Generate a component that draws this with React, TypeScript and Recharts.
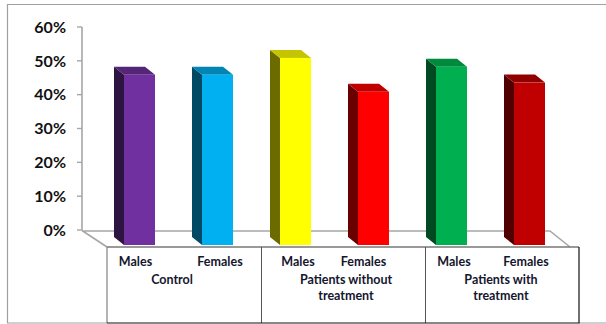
import { BarChart, Bar, XAxis, YAxis } from 'recharts';

const categories = ['Males', 'Females', 'Males', 'Females', 'Males', 'Females'];
const values = [50.3, 50.3, 55.3, 45.3, 52.7, 48];
const percentTicks = [0, 10, 20, 30, 40, 50, 60];
const groupLabels: Record<number, string[]> = {
  0: ['Control'],
  2: ['Patients without', 'treatment'],
  4: ['Patients with', 'treatment'],
};

const frontColors = ['#7030a0', '#00b0f0', '#ffff00', '#ff0000', '#00b050', '#c00000'];
const sideColors = ['#2e1440', '#004a66', '#6b6b00', '#6b0000', '#004a22', '#500000'];
const topColors = ['#552578', '#0085b5', '#c4c400', '#c00000', '#008a3e', '#900000'];

// label offsets from the band centre, the axis text is not evenly spaced
const tickNudge = [14.5, 21, 21, 8.5, 21, 15];
const groupNudge: Record<number, number> = { 0: 51, 2: 69, 4: 68 };

const FONT = 'Lato, Carlito, sans-serif';
const TEXT = '#14162e';

const rows = categories.map((name, i) => ({ id: i, name, value: values[i] }));

// fake 3D column: front face pushed onto the floor, with side and top faces behind it
const Column3D = (props: any) => {
  const { x, y, width, height, index } = props;
  const depthX = 10;
  const depthY = 8;
  const left = x + 18;
  const top = y + 15;
  const bottom = top + height;
  return (
    <g>
      <polygon
        points={`${left},${top} ${left - depthX},${top - depthY} ${left - depthX},${bottom - depthY} ${left},${bottom}`}
        fill={sideColors[index]}
      />
      <polygon
        points={`${left},${top} ${left - depthX},${top - depthY} ${left + width - depthX},${top - depthY} ${left + width},${top}`}
        fill={topColors[index]}
      />
      <rect x={left} y={top} width={width} height={height} fill={frontColors[index]} />
    </g>
  );
};

const CategoryTick = (props: any) => {
  const { x, y, index, payload } = props;
  const lines = groupLabels[index] || [];
  return (
    <g fontFamily={FONT} fontWeight={700} fontSize={12.5} fill={TEXT} textAnchor="middle">
      <text x={x + tickNudge[index]} y={y + 30}>{categories[payload.index ?? index]}</text>
      {lines.map((line, i) => (
        <text key={line} x={x + groupNudge[index]} y={y + 47.5 + i * 16}>{line}</text>
      ))}
    </g>
  );
};

// plot surround: outer border, floor and the table under the axis
const Frame = () => (
  <svg width={606} height={324} style={{ position: 'absolute', left: 0, top: 0 }}>
    <path d="M606 4.5H7.5V323H107M579 323H606" fill="none" stroke="#a0a0a0" strokeWidth={1.2} />
    <path d="M82 230.5L107 247M82 231H550L570 247" fill="none" stroke="#a6a6a6" strokeWidth={1.6} />
    <path d="M107 247H579" fill="none" stroke="#777777" strokeWidth={1.4} />
    <path d="M107 247V323" fill="none" stroke="#808080" strokeWidth={1.2} />
    <path d="M261.5 247V323M425.5 247V323" fill="none" stroke="#555555" strokeWidth={1} />
    <path d="M107 323H579V247" fill="none" stroke="#111111" strokeWidth={1.2} />
  </svg>
);

export default function App() {
  return (
    <div style={{ position: 'absolute', left: 0, top: 0, width: 606, height: 324, background: '#fff' }}>
      <Frame />
      <div style={{ position: 'absolute', left: 0, top: 0 }}>
        <BarChart
          width={606}
          height={324}
          data={rows}
          barSize={31}
          margin={{ top: 27, right: 56, bottom: 0, left: 0 }}
        >
          <XAxis
            dataKey="id"
            height={94}
            axisLine={false}
            tickLine={false}
            tickMargin={0}
            interval={0}
            tick={<CategoryTick />}
          />
          <YAxis
            width={82}
            domain={[0, 60]}
            ticks={percentTicks}
            interval={0}
            tickFormatter={(v: number) => `${v}%`}
            axisLine={{ stroke: '#a6a6a6', strokeWidth: 1.6 }}
            tickLine={{ stroke: '#a6a6a6', strokeWidth: 1.4 }}
            tickSize={5}
            tickMargin={11}
            tick={{ fontFamily: FONT, fontWeight: 700, fontSize: 16, fill: '#111111' }}
          />
          <Bar dataKey="value" isAnimationActive={false} shape={<Column3D />} />
        </BarChart>
      </div>
    </div>
  );
}
